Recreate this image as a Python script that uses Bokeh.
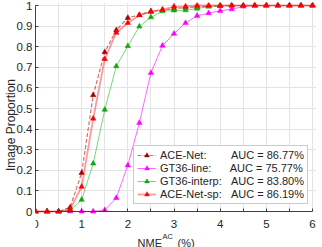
from bokeh.plotting import figure
from bokeh.models import Range1d, FixedTicker, Legend, LegendItem, Label, LinearAxis, BoxAnnotation
from bokeh.embed import file_html
from bokeh.resources import INLINE

# ---- data ----
x_vals = [0.0, 0.25, 0.5, 0.75, 1.0, 1.25, 1.5, 1.75, 2.0, 2.25, 2.5, 2.75, 3.0,
          3.25, 3.5, 3.75, 4.0, 4.25, 4.5, 4.75, 5.0, 5.25, 5.5, 5.75, 6.0]

ace_net = [0, 0, 0, 0.02, 0.187, 0.565, 0.774, 0.88, 0.94, 0.954, 0.972, 0.978, 0.985,
           0.99, 0.993, 0.996, 0.998, 1, 1, 1, 1, 1, 1, 1, 1]
gt36_line = [0, 0, 0, 0, 0, 0, 0.007, 0.066, 0.224, 0.43, 0.673, 0.805, 0.863,
             0.915, 0.95, 0.963, 0.974, 0.982, 0.995, 1, 1, 1, 1, 1, 1]
gt36_interp = [0, 0, 0, 0.005, 0.057, 0.233, 0.494, 0.705, 0.803, 0.898, 0.943, 0.972, 0.976,
               0.977, 0.985, 0.995, 1, 1, 1, 1, 1, 1, 1, 1, 1]
ace_net_sp = [0, 0, 0, 0.01, 0.12, 0.451, 0.74, 0.868, 0.915, 0.953, 0.969, 0.98, 0.995,
              0.996, 1, 1, 1, 1, 1, 1, 1, 1, 1, 1, 1]

series_names = ["ACE-Net:", "GT36-line:", "GT36-interp:", "ACE-Net-sp:"]
auc_texts = ["AUC = 86.77%", "AUC = 75.77%", "AUC = 83.80%", "AUC = 86.19%"]
name_pad = [8, 6, 3, 3]   # spaces between name and AUC column

x_ticks = [0, 1, 2, 3, 4, 5, 6]
x_minor_ticks = [0.5, 1.5, 2.5, 3.5, 4.5, 5.5]
y_ticks = [0, 0.1, 0.2, 0.3, 0.4, 0.5, 0.6, 0.7, 0.8, 0.9, 1]
y_tick_labels = ["0", "0.1", "0.2", "0.3", "0.4", "0.5", "0.6", "0.7", "0.8", "0.9", "1"]

FONT = "Liberation Sans"
TXT = "#262626"
GRID = "#e4e4e4"
AX = "#404040"

# ---- geometry (px) ----
FW, FH = 281, 245
RIGHT_EXTRA = 4            # frame room right of x=6
TOP_PX, BOTTOM_PX = 3, 36  # frame room above y=1 / below y=0
unit_y = FH - TOP_PX - BOTTOM_PX
X_END = 6 * FW / (FW - RIGHT_EXTRA)

p = figure(frame_width=FW, frame_height=FH, output_backend="svg", toolbar_location=None,
           x_range=Range1d(0, X_END),
           y_range=Range1d(-BOTTOM_PX / unit_y, 1 + TOP_PX / unit_y),
           x_axis_location=None,
           min_border_left=0, min_border_right=4, min_border_top=2, min_border_bottom=0)
p.outline_line_color = None
p.background_fill_color = "white"

xaxis = LinearAxis(fixed_location=0)
p.add_layout(xaxis, "below")

xaxis.ticker = FixedTicker(ticks=x_ticks, minor_ticks=x_minor_ticks)
xaxis.bounds = (0, 6)
p.yaxis.ticker = FixedTicker(ticks=y_ticks)
p.yaxis.major_label_overrides = {t: s for t, s in zip(y_ticks, y_tick_labels)}
p.yaxis.bounds = (0, 1)
for ax in (xaxis, p.yaxis[0]):
    ax.axis_line_color = AX
    ax.major_tick_line_color = AX
    ax.minor_tick_line_color = AX
    ax.major_tick_in = 3
    ax.major_tick_out = 0
    ax.major_label_text_font = FONT
    ax.major_label_text_font_size = "11.5px"
    ax.major_label_text_color = TXT
xaxis.major_label_standoff = 8
p.yaxis.major_label_standoff = 3
xaxis.minor_tick_in = 3
xaxis.minor_tick_out = 0
p.yaxis.minor_tick_in = 0
p.yaxis.minor_tick_out = 0
p.yaxis.axis_label = "Image Proportion"
p.yaxis.axis_label_text_font = FONT
p.yaxis.axis_label_text_font_size = "12px"
p.yaxis.axis_label_text_font_style = "normal"
p.yaxis.axis_label_text_color = TXT
p.yaxis.axis_label_standoff = -4

p.xgrid.ticker = xaxis.ticker
p.xgrid.grid_line_color = GRID
p.xgrid.minor_grid_line_color = GRID
p.ygrid.grid_line_color = GRID

# hide the grid under the x axis
p.add_layout(BoxAnnotation(top=0, fill_color="white", fill_alpha=1, line_color=None,
                           level="underlay"))

# ---- series ----
styles = [
    dict(mc="#a00000", lc="#a00000", la=0.55, lw=1.2, dash="4 2"),
    dict(mc="#ff00ff", lc="#ff00ff", la=0.6, lw=1.0, dash="solid"),
    dict(mc="#12a812", lc="#22bb22", la=0.6, lw=1.0, dash="solid"),
    dict(mc="#ff0000", lc="#ff2020", la=0.45, lw=1.8, dash="solid"),
]
all_series = [ace_net, gt36_line, gt36_interp, ace_net_sp]
items = []
for name, auc, pad, ys, st in zip(series_names, auc_texts, name_pad, all_series, styles):
    lr = p.line(x_vals, ys, line_color=st["lc"], line_alpha=st["la"], line_width=st["lw"],
                line_dash=st["dash"])
    sr = p.scatter(x_vals, ys, marker="triangle", size=5.5, fill_color=st["mc"],
                   line_color=st["mc"], line_width=0.5)
    items.append(LegendItem(label=name + "\u00a0" * pad + auc, renderers=[lr, sr]))

PAD, H, SP = 3, 12, 1
GW, STANDOFF = 19, 4
legend_w = 2 * PAD + GW + STANDOFF + 144
legend = Legend(items=items,
                location=(FW - RIGHT_EXTRA - 6 - legend_w, BOTTOM_PX + 7),
                padding=PAD, spacing=SP, glyph_width=GW, glyph_height=H, label_height=H,
                label_standoff=STANDOFF,
                label_text_font=FONT, label_text_font_size="11px",
                label_text_color=TXT, border_line_color="#9a9a9a", border_line_width=1,
                background_fill_color="white", background_fill_alpha=1)
p.add_layout(legend)

# ---- x-axis title: NME^AC (%) ----
base_y = 5
p.add_layout(Label(x=3, y=base_y, x_units="data", y_units="screen", x_offset=-12,
                   text="NME", text_align="right", text_baseline="alphabetic",
                   text_font=FONT, text_font_size="11px", text_color=TXT))
p.add_layout(Label(x=3, y=base_y + 6.5, x_units="data", y_units="screen", x_offset=-11.5,
                   text="AC", text_align="left", text_baseline="alphabetic",
                   text_font=FONT, text_font_size="7.5px", text_color=TXT))
p.add_layout(Label(x=3, y=base_y, x_units="data", y_units="screen", x_offset=3.5,
                   text="(%)", text_align="left", text_baseline="alphabetic",
                   text_font=FONT, text_font_size="11px", text_color=TXT))

open("out.html", "w").write(file_html(p, INLINE))
